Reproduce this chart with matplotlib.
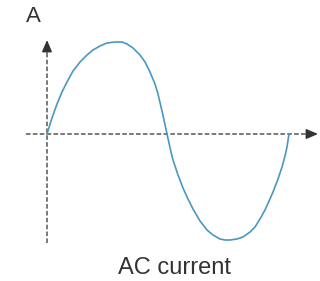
import matplotlib
matplotlib.use("Agg")
import matplotlib.pyplot as plt

# AC current curve (time, current), arbitrary units
t = [0, 5, 10, 15, 20, 26, 33, 40, 46, 53, 60, 68, 75, 80, 86, 93, 98,
     103, 108, 111, 115, 117, 120,
     122, 124, 126, 131, 136, 141, 146, 153, 160, 166, 173, 178, 183, 190,
     196, 203, 208, 213, 218, 223, 226, 231, 235, 238, 240, 242]
i = [0, 16, 30, 42, 52, 63, 72, 79, 84, 88, 91, 92, 92, 90, 86, 79, 72,
     62, 50, 40, 23, 14, 0,
     -9, -18, -26, -41, -54, -65, -75, -87, -96, -101, -105, -106, -106, -105,
     -103, -98, -93, -85, -76, -65, -58, -45, -33, -22, -13, 0]

y_label = "A"
caption = "AC current"

plt.rcParams['font.family'] = ['Liberation Sans', 'DejaVu Sans']

fig = plt.figure(figsize=(3.2, 2.81), dpi=100)
ax = fig.add_axes([0, 0, 1, 1])
ax.set_xlim(-47, 273)
ax.set_ylim(-147, 134)
ax.axis('off')

axis_col = '#555555'
dash = (0, (3, 1.5))

# horizontal axis (time)
ax.plot([-21, 262], [0, 0], color=axis_col, lw=1.1, linestyle=dash, zorder=1)
ax.annotate("", xy=(271, 0), xytext=(260, 0),
            arrowprops=dict(arrowstyle='-|>,head_length=0.7,head_width=0.3',
                            color='#333333', lw=1.1, shrinkA=0, shrinkB=0))

# vertical axis (current)
ax.plot([0, 0], [-109, 84], color=axis_col, lw=1.1, linestyle=dash, zorder=1)
ax.annotate("", xy=(0, 94), xytext=(0, 82),
            arrowprops=dict(arrowstyle='-|>,head_length=0.7,head_width=0.3',
                            color='#333333', lw=1.1, shrinkA=0, shrinkB=0))

ax.plot(t, i, color='#4a97c2', lw=1.2, zorder=2,
        solid_capstyle='round', solid_joinstyle='round')

ax.text(-14, 117, y_label, fontsize=16, color='#333333',
        ha='center', va='center')
ax.text(127, -134, caption, fontsize=17, color='#333333',
        ha='center', va='center')

fig.savefig("out.png", dpi=100)
